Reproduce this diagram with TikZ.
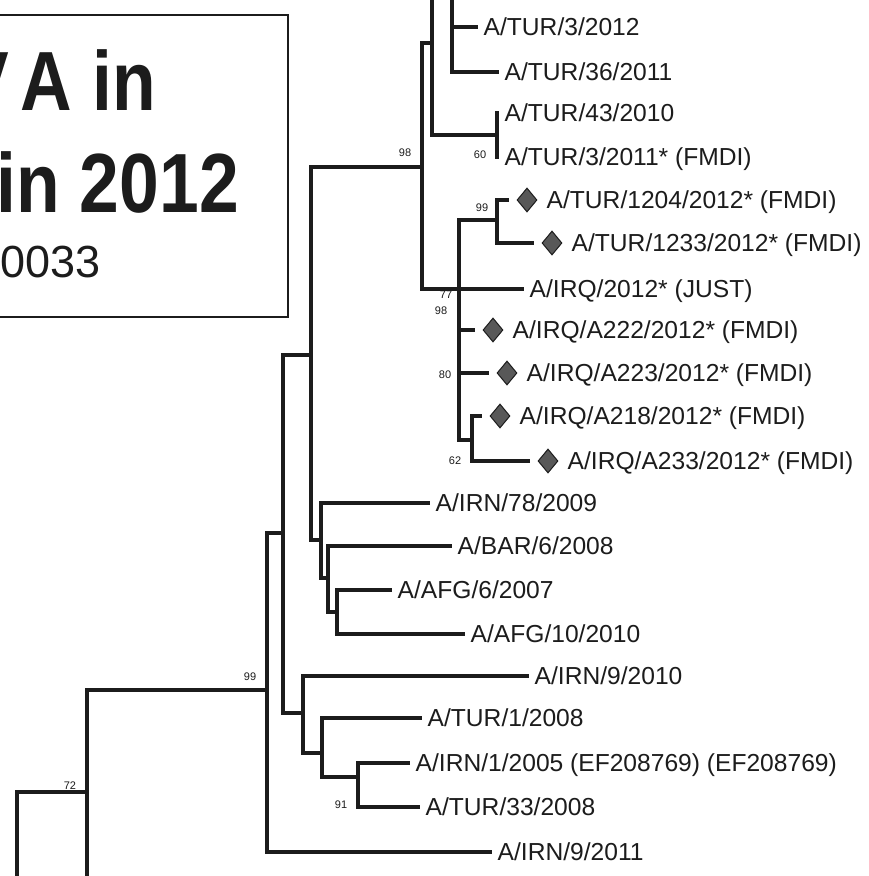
\documentclass[tikz,border=0pt]{standalone}
\usepackage{fontspec}
\setmainfont{Liberation Sans}
\usetikzlibrary{shapes.geometric}
\definecolor{ink}{RGB}{28,28,28}
\definecolor{gem}{RGB}{88,88,88}

\begin{document}
\begin{tikzpicture}[x=1pt,y=-1pt,
 branch/.style={draw=ink,line width=3.2pt,line cap=rect},
 leaf/.style={anchor=west,inner xsep=7.5pt,inner ysep=0pt,text height=17.4pt,text depth=0pt,text=ink,font=\fontsize{24.6}{28}\selectfont},
 gemleaf/.style={shape=diamond,draw=ink,fill=gem,line width=1pt,minimum width=20pt,minimum height=24pt,inner sep=0pt},
 boot/.style={text=ink,inner sep=0pt,font=\fontsize{11}{12}\selectfont},
 title/.style={anchor=base east,inner sep=0pt,text=ink}]
\useasboundingbox (0,0) rectangle (869,876);
\clip (0,0) rectangle (869,876);
\fill[white] (0,0) rectangle (869,876);
\draw[ink,line width=2.4pt] (-10,15) rectangle (288,317);
\node[title,font=\fontsize{84}{84}\selectfont\bfseries] (ttlA) at (156,110) {\scalebox{0.85}[1]{V\,A in}};
\node[title,font=\fontsize{84}{84}\selectfont\bfseries] (ttlB) at (239,212) {\scalebox{0.85}[1]{in 2012}};
\node[title,font=\fontsize{45}{45}\selectfont] (ttlC) at (101,277) {0033};

\coordinate (nR) at (17,900);
\coordinate (n72) at (87,792);
\coordinate (low72) at (87,900);
\coordinate (n99) at (267,690);
\coordinate (nA) at (283,533);
\coordinate (nB) at (311,355);
\coordinate (n98) at (422,167);
\coordinate (nTop) at (432,43);
\coordinate (up1) at (432,-10);
\coordinate (nT1) at (452,-10);
\coordinate (n60) at (497,135);
\coordinate (nIQ) at (459,289);
\coordinate (n99b) at (497,220);
\coordinate (n62) at (472,440);
\coordinate (nM) at (321,540);
\coordinate (nM2) at (328,578);
\coordinate (nM3) at (337,612);
\coordinate (nC) at (303,713);
\coordinate (nD) at (322,753);
\coordinate (n91) at (358,777);

\node[leaf] (tur3) at (476,27) {A/TUR/3/2012};
\node[leaf] (tur36) at (497,72) {A/TUR/36/2011};
\node[leaf] (tur43) at (497,113) {A/TUR/43/2010};
\node[leaf] (tur3b) at (497,157) {A/TUR/3/2011* (FMDI)};
\node[gemleaf] (g1204) at (527,200) {};
\node[leaf,inner xsep=9pt] (tur1204) at (g1204.east) {A/TUR/1204/2012* (FMDI)};
\node[gemleaf] (g1233) at (552,243) {};
\node[leaf,inner xsep=9pt] (tur1233) at (g1233.east) {A/TUR/1233/2012* (FMDI)};
\node[leaf] (irq) at (522,289) {A/IRQ/2012* (JUST)};
\node[gemleaf] (g222) at (493,330) {};
\node[leaf,inner xsep=9pt] (irq222) at (g222.east) {A/IRQ/A222/2012* (FMDI)};
\node[gemleaf] (g223) at (507,373) {};
\node[leaf,inner xsep=9pt] (irq223) at (g223.east) {A/IRQ/A223/2012* (FMDI)};
\node[gemleaf] (g218) at (500,416) {};
\node[leaf,inner xsep=9pt] (irq218) at (g218.east) {A/IRQ/A218/2012* (FMDI)};
\node[gemleaf] (g233) at (548,461) {};
\node[leaf,inner xsep=9pt] (irq233) at (g233.east) {A/IRQ/A233/2012* (FMDI)};
\node[leaf] (irn78) at (428,503) {A/IRN/78/2009};
\node[leaf] (bar6) at (450,546) {A/BAR/6/2008};
\node[leaf] (afg6) at (390,590) {A/AFG/6/2007};
\node[leaf] (afg10) at (463,634) {A/AFG/10/2010};
\node[leaf] (irn9a) at (527,676) {A/IRN/9/2010};
\node[leaf] (tur1) at (420,718) {A/TUR/1/2008};
\node[leaf] (irn1) at (408,763) {A/IRN/1/2005 (EF208769) (EF208769)};
\node[leaf] (tur33) at (418,807) {A/TUR/33/2008};
\node[leaf] (irn9b) at (490,852) {A/IRN/9/2011};

\draw[branch] (nR) |- (n72);
\draw[branch] (n72) |- (n99);
\draw[branch] (n72) -- (low72);
\draw[branch] (n99) |- (nA);
\draw[branch] (n99) |- (irn9b);
\draw[branch] (nA) |- (nB);
\draw[branch] (nA) |- (nC);
\draw[branch] (nB) |- (n98);
\draw[branch] (nB) |- (nM);
\draw[branch] (n98) |- (nTop);
\draw[branch] (n98) |- (nIQ);
\draw[branch] (nTop) -- (up1);
\draw[branch] (nTop) |- (n60);
\draw[branch] (nT1) |- (tur3);
\draw[branch] (nT1) |- (tur36);
\draw[branch] (n60) |- (tur43);
\draw[branch] (n60) |- (tur3b);
\draw[branch] (nIQ) |- (n99b);
\draw[branch] (nIQ) |- (irq);
\draw[branch,shorten >=9pt] (nIQ) |- (g222);
\draw[branch,shorten >=9pt] (nIQ) |- (g223);
\draw[branch] (nIQ) |- (n62);
\draw[branch,shorten >=9pt] (n99b) |- (g1204);
\draw[branch,shorten >=9pt] (n99b) |- (g1233);
\draw[branch,shorten >=9pt] (n62) |- (g218);
\draw[branch,shorten >=9pt] (n62) |- (g233);
\draw[branch] (nM) |- (irn78);
\draw[branch] (nM) |- (nM2);
\draw[branch] (nM2) |- (bar6);
\draw[branch] (nM2) |- (nM3);
\draw[branch] (nM3) |- (afg6);
\draw[branch] (nM3) |- (afg10);
\draw[branch] (nC) |- (irn9a);
\draw[branch] (nC) |- (nD);
\draw[branch] (nD) |- (tur1);
\draw[branch] (nD) |- (n91);
\draw[branch] (n91) |- (irn1);
\draw[branch] (n91) |- (tur33);

\node[boot] (b98) at (405,153) {98};
\node[boot] (b60) at (480,155) {60};
\node[boot] (b99) at (482,208) {99};
\node[boot] (b77) at (446,295) {77};
\node[boot] (b98b) at (441,311) {98};
\node[boot] (b80) at (445,375) {80};
\node[boot] (b62) at (455,461) {62};
\node[boot] (b99c) at (250,677) {99};
\node[boot] (b72) at (70,786) {72};
\node[boot] (b91) at (341,805) {91};
\end{tikzpicture}
\end{document}
